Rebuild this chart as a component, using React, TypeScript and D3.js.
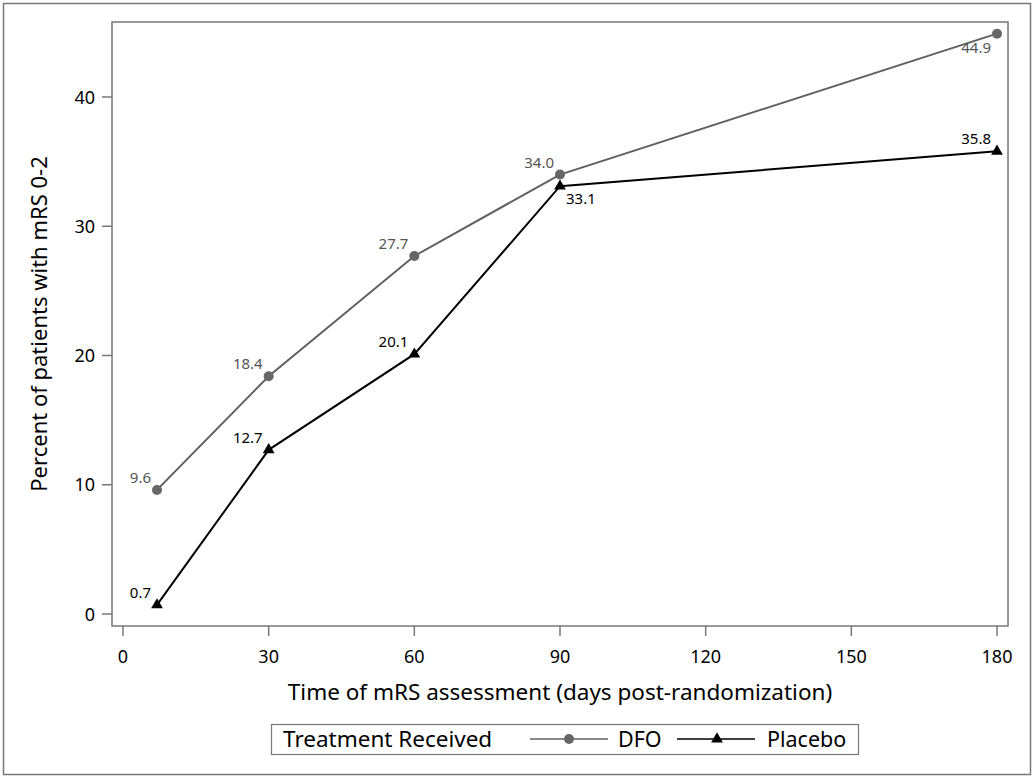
import React from "react";
import * as d3 from "d3";

const days = [7, 30, 60, 90, 180];
const dfoValues = [9.6, 18.4, 27.7, 34.0, 44.9];
const placeboValues = [0.7, 12.7, 20.1, 33.1, 35.8];
const xTicks = [0, 30, 60, 90, 120, 150, 180];
const yTicks = [0, 10, 20, 30, 40];
// label placement: "ul" upper-left, "ll" lower-left, "lr" lower-right
const dfoLabelPos = ["ul", "ul", "ul", "ul", "ll"];
const placeboLabelPos = ["ul", "ul", "ul", "lr", "ul"];

const W = 1035;
const H = 778;
const plot = { left: 112, right: 1008, top: 22, bottom: 626 };
const FONT = "'Noto Sans', 'Open Sans', sans-serif";

export default function App() {
  const x = d3.scaleLinear().domain([0, 180]).range([123, 997]);
  const y = d3.scaleLinear().domain([0, 40]).range([614, 97]);
  const line = d3
    .line<[number, number]>()
    .x((d) => x(d[0]))
    .y((d) => y(d[1]));
  const dfo = days.map((d, i) => [d, dfoValues[i]] as [number, number]);
  const pla = days.map((d, i) => [d, placeboValues[i]] as [number, number]);
  const tri = d3.symbol().type(d3.symbolTriangle).size(60)();

  const label = (px: number, py: number, pos: string) => {
    if (pos === "ul") return { x: px - 6, y: py - 7, anchor: "end" };
    if (pos === "ll") return { x: px - 6, y: py + 19, anchor: "end" };
    return { x: px + 6, y: py + 18, anchor: "start" };
  };

  return (
    <svg
      width={W}
      height={H}
      style={{ position: "absolute", left: 0, top: 0, fontFamily: FONT }}
    >
      <rect x={0} y={0} width={W} height={H} fill="#fff" />
      <rect x={3.5} y={3.5} width={1027} height={771} fill="none" stroke="#777" strokeWidth={1.5} />
      <rect
        x={plot.left}
        y={plot.top}
        width={plot.right - plot.left}
        height={plot.bottom - plot.top}
        fill="none"
        stroke="#777"
        strokeWidth={1.5}
      />
      {/* y axis */}
      {yTicks.map((t) => (
        <g key={"y" + t}>
          <line x1={102} x2={plot.left} y1={y(t)} y2={y(t)} stroke="#777" strokeWidth={1.5} />
          <text x={95} y={y(t) + 6.5} textAnchor="end" fontSize={18} fill="#000">
            {t}
          </text>
        </g>
      ))}
      {/* x axis */}
      {xTicks.map((t) => (
        <g key={"x" + t}>
          <line x1={x(t)} x2={x(t)} y1={plot.bottom} y2={636} stroke="#777" strokeWidth={1.5} />
          <text x={x(t)} y={663} textAnchor="middle" fontSize={18} fill="#000">
            {t}
          </text>
        </g>
      ))}
      <text
        transform={`translate(47, ${(plot.top + plot.bottom) / 2}) rotate(-90)`}
        textAnchor="middle"
        fontSize={22}
        fill="#000"
      >
        Percent of patients with mRS 0-2
      </text>
      <text x={560} y={700} textAnchor="middle" fontSize={22.5} fill="#000">
        Time of mRS assessment (days post-randomization)
      </text>

      {/* DFO */}
      <path d={line(dfo) || ""} fill="none" stroke="#606060" strokeWidth={2} />
      {dfo.map((d, i) => (
        <circle key={"dc" + i} cx={x(d[0])} cy={y(d[1])} r={5} fill="#666" />
      ))}
      {dfo.map((d, i) => {
        const l = label(x(d[0]), y(d[1]), dfoLabelPos[i]);
        return (
          <text key={"dl" + i} x={l.x} y={l.y} textAnchor={l.anchor} fontSize={15} fill="#555">
            {d[1].toFixed(1)}
          </text>
        );
      })}

      {/* Placebo */}
      <path d={line(pla) || ""} fill="none" stroke="#000" strokeWidth={2} />
      {pla.map((d, i) => (
        <path key={"pt" + i} d={tri || ""} transform={`translate(${x(d[0])},${y(d[1])})`} fill="#000" />
      ))}
      {pla.map((d, i) => {
        const l = label(x(d[0]), y(d[1]), placeboLabelPos[i]);
        return (
          <text key={"pl" + i} x={l.x} y={l.y} textAnchor={l.anchor} fontSize={15} fill="#000">
            {d[1].toFixed(1)}
          </text>
        );
      })}

      {/* Legend */}
      <rect x={271.5} y={724.5} width={587} height={30} fill="none" stroke="#777" strokeWidth={1.2} />
      <text x={283} y={747} fontSize={22.5} fill="#000">
        Treatment Received
      </text>
      <line x1={530} x2={608} y1={739} y2={739} stroke="#606060" strokeWidth={1.5} />
      <circle cx={569} cy={739} r={5} fill="#666" />
      <text x={618} y={747} fontSize={21.5} fill="#000">
        DFO
      </text>
      <line x1={677} x2={755} y1={739} y2={739} stroke="#000" strokeWidth={1.5} />
      <path d={tri || ""} transform="translate(717,739)" fill="#000" />
      <text x={767} y={747} fontSize={21.5} fill="#000">
        Placebo
      </text>
    </svg>
  );
}
